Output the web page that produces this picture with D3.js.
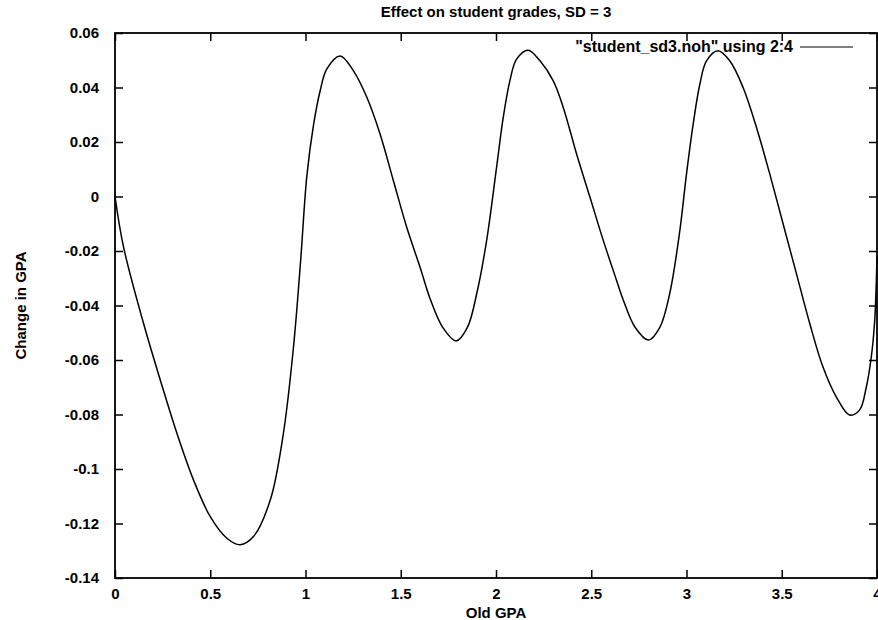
<!DOCTYPE html>
<html lang="en">
<head>
    <meta charset="utf-8">
    <title>Effect on student grades, SD = 3</title>
    <script type="text/javascript" src="https://d3js.org/d3.v7.min.js"></script>
</head>
<style>
    body {
        margin: 0;
        background: #ffffff;
    }
    svg {
        display: block;
    }
    text {
        font-family: "Liberation Sans", Arial, sans-serif;
        font-weight: bold;
        fill: #000;
    }
</style>
<body>
<div id="container"></div>

<script type="text/javascript">
    // values
    var oldGpa = [0, 0.045, 0.15, 0.238, 0.325, 0.412, 0.5, 0.587, 0.657, 0.727, 0.815, 0.884, 0.937, 0.975,
        1.007, 1.042, 1.077, 1.112, 1.182, 1.251, 1.322, 1.391, 1.461, 1.531, 1.601, 1.654, 1.72, 1.79, 1.85, 1.899, 1.951,
        2.003, 2.038, 2.073, 2.108, 2.169, 2.231, 2.3, 2.353, 2.423, 2.493, 2.563, 2.633, 2.668, 2.73, 2.8, 2.86, 2.912, 2.965,
        3.0, 3.035, 3.07, 3.105, 3.166, 3.227, 3.297, 3.367, 3.437, 3.507, 3.577, 3.647, 3.716, 3.786, 3.856, 3.908, 3.944, 3.97, 3.988, 4.0];
    var changeGpa = [0, -0.0186, -0.0466, -0.0674, -0.0869, -0.104, -0.1175, -0.1254, -0.1278, -0.1248, -0.1114, -0.0869, -0.0552, -0.023,
        0.0075, 0.0262, 0.0388, 0.0468, 0.0516, 0.0462, 0.0364, 0.023, 0.0059, -0.0112, -0.0259, -0.0375, -0.048, -0.053, -0.048, -0.0356, -0.0161,
        0.0107, 0.029, 0.0425, 0.0504, 0.0537, 0.0498, 0.0425, 0.0327, 0.0156, -0.0002, -0.0161, -0.0308, -0.038, -0.048, -0.0527, -0.048, -0.0356, -0.0125,
        0.0083, 0.0266, 0.0412, 0.0498, 0.0535, 0.0498, 0.040, 0.0254, 0.0083, -0.010, -0.0283, -0.0466, -0.0625, -0.0735, -0.0802, -0.0784, -0.0699, -0.0589, -0.0454, -0.022];

    var xTicks = [0, 0.5, 1, 1.5, 2, 2.5, 3, 3.5, 4];
    var yTicks = [0.06, 0.04, 0.02, 0, -0.02, -0.04, -0.06, -0.08, -0.1, -0.12, -0.14];

    var title = "Effect on student grades, SD = 3";
    var xLabel = "Old GPA";
    var yLabel = "Change in GPA";
    var legendLabel = "\"student_sd3.noh\" using 2:4";

    var width = 878;
    var height = 620;
    var margin = {left: 115, right: 1, top: 33, bottom: 42};

    var svg = d3.select("div#container")
        .append("svg")
        .attr("width", width)
        .attr("height", height)
        .style("background-color", "white");

    var x = d3.scaleLinear()
        .domain([0, 4])
        .range([margin.left, width - margin.right]);

    var y = d3.scaleLinear()
        .domain([-0.14, 0.06])
        .range([height - margin.bottom, margin.top]);

    // plain hyphen for negatives, like the original
    var fmt = function(d) { return String(+d.toFixed(2)); };

    // bottom and left axes, ticks pointing inward like gnuplot
    svg.append("g")
        .attr("transform", "translate(0," + y(-0.14) + ")")
        .call(d3.axisBottom(x).tickValues(xTicks).tickSize(-8).tickPadding(10).tickFormat(fmt));

    svg.append("g")
        .attr("transform", "translate(" + x(0) + ",0)")
        .call(d3.axisLeft(y).tickValues(yTicks).tickSize(-8).tickPadding(16).tickFormat(fmt));

    // mirrored ticks on top and right
    svg.append("g")
        .attr("transform", "translate(0," + y(0.06) + ")")
        .call(d3.axisTop(x).tickValues(xTicks).tickSize(-8).tickFormat(""));

    svg.append("g")
        .attr("transform", "translate(" + x(4) + ",0)")
        .call(d3.axisRight(y).tickValues(yTicks).tickSize(-8).tickFormat(""));

    svg.selectAll(".domain").remove();
    svg.selectAll(".tick line").attr("stroke", "#000").attr("stroke-width", 1.5);
    svg.selectAll(".tick text")
        .style("font-family", "'Liberation Sans', Arial, sans-serif")
        .style("font-size", "15px")
        .style("font-weight", "bold")
        .attr("fill", "#000");

    // plot frame
    svg.append("rect")
        .attr("x", x(0))
        .attr("y", y(0.06))
        .attr("width", x(4) - x(0))
        .attr("height", y(-0.14) - y(0.06))
        .style("fill", "none")
        .style("stroke", "black")
        .style("stroke-width", 1.8);

    // data line
    var points = oldGpa.map(function(d, i) { return [d, changeGpa[i]]; });

    var line = d3.line()
        .x(function(d) { return x(d[0]); })
        .y(function(d) { return y(d[1]); })
        .curve(d3.curveCatmullRom.alpha(0.5));

    svg.append("path")
        .datum(points)
        .attr("d", line)
        .style("fill", "none")
        .style("stroke", "black")
        .style("stroke-width", 1.5);

    // legend
    svg.append("text")
        .attr("x", 793)
        .attr("y", 52)
        .attr("text-anchor", "end")
        .style("font-size", "16px")
        .text(legendLabel);

    svg.append("line")
        .attr("x1", 800)
        .attr("x2", 853)
        .attr("y1", 47)
        .attr("y2", 47)
        .style("stroke", "black")
        .style("stroke-width", 1.2);

    // titles
    svg.append("text")
        .attr("x", (x(0) + x(4)) / 2)
        .attr("y", 17)
        .attr("text-anchor", "middle")
        .style("font-size", "15px")
        .text(title);

    svg.append("text")
        .attr("x", (x(0) + x(4)) / 2)
        .attr("y", 618)
        .attr("text-anchor", "middle")
        .style("font-size", "15px")
        .text(xLabel);

    svg.append("text")
        .attr("transform", "translate(26," + ((y(0.06) + y(-0.14)) / 2) + ") rotate(-90)")
        .attr("text-anchor", "middle")
        .style("font-size", "15px")
        .text(yLabel);
</script>
</body>
</html>
